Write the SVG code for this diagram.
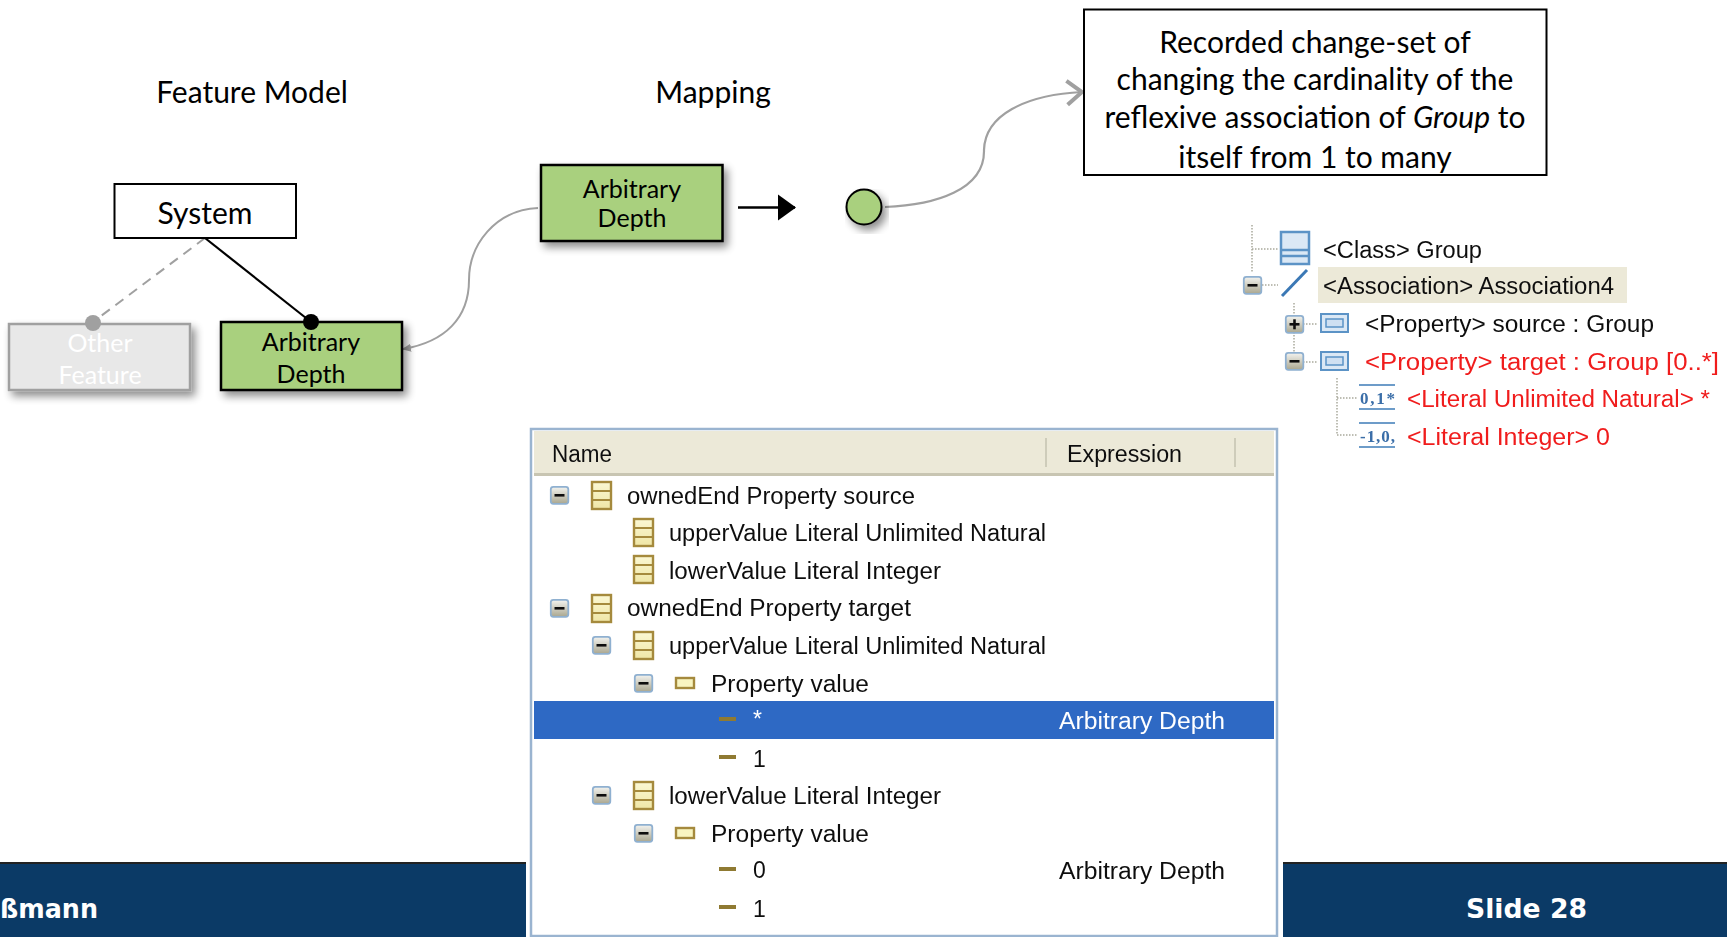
<svg xmlns="http://www.w3.org/2000/svg" xmlns:xlink="http://www.w3.org/1999/xlink" width="1727" height="937" viewBox="0 0 1727 937">
<style>
.lato{font-family:Lato,"Liberation Sans",sans-serif;fill:#000}
.ui{font-family:"Liberation Sans",Arial,sans-serif;font-size:23px;fill:#111}
.red{fill:#f01c1c}
.foot{font-family:"DejaVu Sans",sans-serif;font-weight:bold;font-size:27px;fill:#fff}
.dot{fill:none;stroke:#a9a99c;stroke-width:1.5;stroke-dasharray:1.5 1.5}
.sb{fill:#fff;stroke:#000;stroke-width:2}
.gb{fill:#a9d07e;stroke:#000;stroke-width:2.5}
.m{text-anchor:middle}
</style>
<defs>
<filter id="sh" x="-15%" y="-15%" width="135%" height="140%"><feGaussianBlur in="SourceAlpha" stdDeviation="4"/><feOffset dx="4" dy="5"/><feComponentTransfer><feFuncA type="linear" slope="0.45"/></feComponentTransfer><feMerge><feMergeNode/><feMergeNode in="SourceGraphic"/></feMerge></filter>
<filter id="soft" x="-2%" y="-2%" width="104%" height="104%"><feGaussianBlur stdDeviation="0.5"/></filter>
<linearGradient id="btn" x1="0" y1="0" x2="0" y2="1"><stop offset="0" stop-color="#f4f4f0"/><stop offset="1" stop-color="#a9a68f"/></linearGradient>
<linearGradient id="cg" x1="0" y1="0" x2="0" y2="1"><stop offset="0" stop-color="#fbf8d4"/><stop offset="1" stop-color="#efe6a6"/></linearGradient>
<marker id="gt" markerWidth="9" markerHeight="9" refX="8" refY="4" orient="auto" markerUnits="userSpaceOnUse" viewBox="0 0 9 8"><path d="M0 0L9 4L0 8Z" fill="#a0a0a0"/></marker>
<marker id="op" markerWidth="22" markerHeight="28" refX="20" refY="14" orient="auto" markerUnits="userSpaceOnUse"><path d="M5 2L20 14L5 26" fill="none" stroke="#a0a0a0" stroke-width="4"/></marker>
<marker id="bk" markerWidth="18" markerHeight="28" refX="17" refY="14" orient="auto" markerUnits="userSpaceOnUse"><path d="M0 1L18 14L0 27Z" fill="#000"/></marker>
<g id="minus"><rect x="0.8" y="0.8" width="17.5" height="17" rx="2.5" fill="url(#btn)" stroke="#8fb0d0" stroke-width="1.8"/><rect x="4.5" y="8" width="10" height="2.6" fill="#111"/></g>
<g id="plus"><rect x="0.8" y="0.8" width="17.5" height="17" rx="2.5" fill="url(#btn)" stroke="#8fb0d0" stroke-width="1.8"/><rect x="4.5" y="8" width="10" height="2.6" fill="#111"/><rect x="8.2" y="4.3" width="2.6" height="10" fill="#111"/></g>
<g id="cls"><rect x="1" y="1" width="19" height="27" fill="url(#cg)" stroke="#a58a3c" stroke-width="2.4"/><path d="M1 10H20M1 19H20" stroke="#a58a3c" stroke-width="2"/></g>
<g id="prop"><rect x="1" y="1" width="18" height="10" fill="#f8f4c0" stroke="#a58a3c" stroke-width="2.4"/></g>
<rect id="dash" width="17" height="4" fill="#8f7a32"/>
<g id="bp"><rect x="1" y="1" width="27" height="18" fill="#dbe8f5" stroke="#5b93c6" stroke-width="2"/><rect x="6" y="6" width="17" height="8" fill="#cfe0f2" stroke="#5b93c6" stroke-width="1.5"/></g>
</defs>
<rect width="1727" height="937" fill="#fff"/>
<g id="footer">
<rect x="0" y="862" width="526" height="75" fill="#0b3a66"/>
<rect x="1283" y="862" width="444" height="75" fill="#0b3a66"/>
<rect x="0" y="862" width="526" height="2" fill="#222"/>
<rect x="1283" y="862" width="444" height="2" fill="#222"/>
<text class="foot" x="0" y="918" textLength="98" lengthAdjust="spacingAndGlyphs">ßmann</text>
<text class="foot" x="1466" y="918" textLength="121" lengthAdjust="spacingAndGlyphs">Slide 28</text>
</g>
<g id="connectors">
<path d="M205 238L93 322" fill="none" stroke="#a0a0a0" stroke-width="2" stroke-dasharray="10 7"/>
<path d="M205 238L311 322" fill="none" stroke="#000" stroke-width="2.2"/>
<path d="M538 208C495 210 469 245 469 280C469 318 445 342 403 349" fill="none" stroke="#a0a0a0" stroke-width="2" marker-end="url(#gt)"/>
<path d="M738 207.500H795" fill="none" stroke="#000" stroke-width="2.5" marker-end="url(#bk)"/>
<path d="M885 207C935 205 985 190 984 150C985 115 1025 95 1082 92" fill="none" stroke="#a0a0a0" stroke-width="2.2" marker-end="url(#op)"/>
</g>
<text id="title-feature" class="lato m" x="252" y="103" font-size="30">Feature Model</text>
<text id="title-mapping" class="lato m" x="713" y="103" font-size="30">Mapping</text>
<g id="node-system"><rect class="sb" x="114.500" y="184" width="181.500" height="54"/><text class="lato m" x="205" y="223.500" font-size="30">System</text></g>
<g id="node-other"><rect x="9" y="324" width="181" height="66" fill="#e8e8e8" stroke="#a0a0a0" stroke-width="2.500" filter="url(#sh)"/><text class="lato m" x="100" y="352" font-size="25" style="fill:#fff">Other</text><text class="lato m" x="100" y="384" font-size="25" style="fill:#fff">Feature</text><circle cx="93" cy="323" r="8" fill="#a0a0a0"/></g>
<g id="node-depth"><rect class="gb" x="221" y="322" width="181" height="68" filter="url(#sh)"/><text class="lato m" x="311" y="351" font-size="25">Arbitrary</text><text class="lato m" x="311" y="383" font-size="25">Depth</text><circle cx="311" cy="322" r="8" fill="#000"/></g>
<g id="node-mapping"><rect class="gb" x="541" y="165" width="181.500" height="76" filter="url(#sh)"/><text class="lato m" x="632" y="198" font-size="25">Arbitrary</text><text class="lato m" x="632" y="227" font-size="25">Depth</text></g>
<g id="node-circle"><circle cx="864" cy="207" r="17.500" fill="#a9d07e" stroke="#000" stroke-width="2" filter="url(#sh)"/></g>
<g id="node-note"><rect class="sb" x="1084" y="9.500" width="462.500" height="165.500"/>
<g class="lato m" font-size="30"><text x="1315" y="53">Recorded change-set of</text><text x="1315" y="90">changing the cardinality of the</text><text x="1315" y="128">reflexive association of <tspan font-style="italic">Group</tspan> to</text><text x="1315" y="168">itself from 1 to many</text></g></g>
<g id="tree" filter="url(#soft)">
<path class="dot" d="M1252 225V272M1252 249H1278M1262 285H1278M1294 303V316M1294 332V354M1303 324H1318M1303 362H1318M1337 378V435H1358M1337 398H1358"/>
<rect x="1318" y="267" width="309" height="36" fill="#ece9d8"/>
<g fill="#dbe8f5" stroke="#5b93c6" stroke-width="2.500"><rect x="1281" y="232" width="28" height="32"/><path d="M1281 250H1309M1281 256H1309" fill="none"/></g>
<path d="M1282 296L1307 270" stroke="#3a78b5" stroke-width="3"/>
<use href="#minus" x="1243" y="276"/><use href="#plus" x="1285" y="315"/><use href="#minus" x="1285" y="352"/>
<use href="#bp" x="1320" y="313"/><use href="#bp" x="1320" y="351"/>
<g font-family="Liberation Serif,serif" font-weight="bold" font-size="17" fill="#3a6ea8"><path d="M1359 385H1395M1359 409H1395M1359 423H1395M1359 447H1395" stroke="#6d9cc9" stroke-width="2"/><text x="1360" y="404" textLength="35">0,1*</text><text x="1360" y="442" textLength="35">-1,0,</text></g>
<text class="ui" x="1323" y="258" textLength="159" lengthAdjust="spacingAndGlyphs">&lt;Class&gt; Group</text>
<text class="ui" x="1323" y="294" textLength="291" lengthAdjust="spacingAndGlyphs">&lt;Association&gt; Association4</text>
<text class="ui" x="1365" y="332" textLength="289" lengthAdjust="spacingAndGlyphs">&lt;Property&gt; source : Group</text>
<text class="ui red" x="1365" y="370" textLength="354" lengthAdjust="spacingAndGlyphs">&lt;Property&gt; target : Group [0..*]</text>
<text class="ui red" x="1407" y="407" textLength="303" lengthAdjust="spacingAndGlyphs">&lt;Literal Unlimited Natural&gt; *</text>
<text class="ui red" x="1407" y="445" textLength="203" lengthAdjust="spacingAndGlyphs">&lt;Literal Integer&gt; 0</text>
</g>
<g id="table" filter="url(#soft)">
<rect x="531" y="429" width="746" height="507" fill="#fff" stroke="#9ab4d0" stroke-width="2.500"/>
<rect x="534" y="431" width="740" height="43" fill="#ece9d8"/><rect x="534" y="473" width="740" height="3" fill="#c8c5b2"/>
<path d="M1046 438V467M1235 438V467" stroke="#c4c2b0" stroke-width="1.500"/>
<rect x="534" y="701" width="740" height="38" fill="#2f69c4"/>
<text class="ui" x="552" y="462" textLength="60" lengthAdjust="spacingAndGlyphs">Name</text>
<text class="ui" x="1067" y="462" textLength="115" lengthAdjust="spacingAndGlyphs">Expression</text>
<use href="#minus" x="550" y="486"/><use href="#cls" x="591" y="481"/><text class="ui" x="627" y="504" textLength="288" lengthAdjust="spacingAndGlyphs">ownedEnd Property source</text>
<use href="#cls" x="633" y="518"/><text class="ui" x="669" y="541" textLength="377" lengthAdjust="spacingAndGlyphs">upperValue Literal Unlimited Natural</text>
<use href="#cls" x="633" y="555"/><text class="ui" x="669" y="579" textLength="272" lengthAdjust="spacingAndGlyphs">lowerValue Literal Integer</text>
<use href="#minus" x="550" y="599"/><use href="#cls" x="591" y="594"/><text class="ui" x="627" y="616" textLength="284" lengthAdjust="spacingAndGlyphs">ownedEnd Property target</text>
<use href="#minus" x="592" y="636"/><use href="#cls" x="633" y="631"/><text class="ui" x="669" y="654" textLength="377" lengthAdjust="spacingAndGlyphs">upperValue Literal Unlimited Natural</text>
<use href="#minus" x="634" y="674"/><use href="#prop" x="675" y="677"/><text class="ui" x="711" y="692" textLength="158" lengthAdjust="spacingAndGlyphs">Property value</text>
<use href="#dash" x="719" y="717"/><text class="ui" x="753" y="727" style="fill:#fff">*</text><text class="ui" x="1059" y="729" textLength="166" lengthAdjust="spacingAndGlyphs" style="fill:#fff">Arbitrary Depth</text>
<use href="#dash" x="719" y="755"/><text class="ui" x="753" y="767">1</text>
<use href="#minus" x="592" y="786"/><use href="#cls" x="633" y="781"/><text class="ui" x="669" y="804" textLength="272" lengthAdjust="spacingAndGlyphs">lowerValue Literal Integer</text>
<use href="#minus" x="634" y="824"/><use href="#prop" x="675" y="827"/><text class="ui" x="711" y="842" textLength="158" lengthAdjust="spacingAndGlyphs">Property value</text>
<use href="#dash" x="719" y="867"/><text class="ui" x="753" y="878">0</text><text class="ui" x="1059" y="879" textLength="166" lengthAdjust="spacingAndGlyphs">Arbitrary Depth</text>
<use href="#dash" x="719" y="905"/><text class="ui" x="753" y="917">1</text>
</g>
</svg>
